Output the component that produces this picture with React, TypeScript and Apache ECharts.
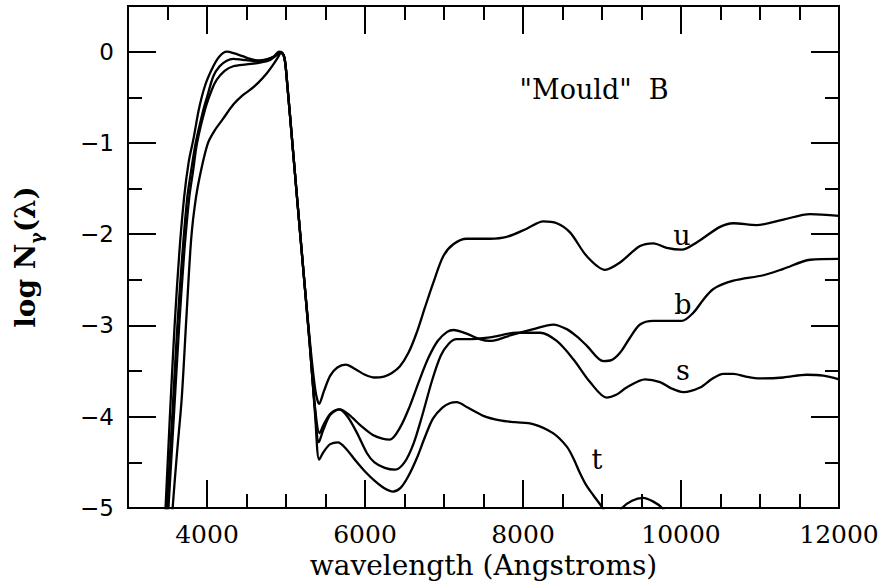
import React, { useEffect, useRef } from 'react';
import * as echarts from 'echarts';

// wavelength (Angstroms), log N_gamma(lambda)
const uCurve: number[][] = [
  [3545, -5.3], [3565, -5.0], [3620, -4.4], [3680, -3.8], [3740, -2.9], [3800, -2.05], [3860, -1.6],
  [3930, -1.28], [4013, -1.0], [4100, -0.86], [4200, -0.74], [4333, -0.58], [4450, -0.48], [4544, -0.42],
  [4650, -0.34], [4755, -0.24], [4840, -0.14], [4900, -0.06], [4940, -0.01], [4970, -0.04], [5000, -0.2],
  [5100, -1.2], [5200, -2.2], [5300, -3.15], [5370, -3.7], [5420, -3.86], [5480, -3.72], [5560, -3.55],
  [5650, -3.46], [5756, -3.43], [5880, -3.48], [6000, -3.54], [6120, -3.57], [6240, -3.56], [6340, -3.52],
  [6440, -3.45], [6550, -3.3], [6654, -3.08], [6760, -2.8], [6865, -2.53], [6992, -2.24], [7118, -2.11],
  [7287, -2.05], [7450, -2.05], [7582, -2.05], [7793, -2.03], [8047, -1.94], [8258, -1.86], [8427, -1.88],
  [8595, -1.98], [8806, -2.24], [9038, -2.39], [9228, -2.31], [9481, -2.13], [9650, -2.1], [9819, -2.15],
  [10009, -2.17], [10199, -2.09], [10494, -1.92], [10663, -1.88], [10958, -1.9], [11296, -1.84],
  [11634, -1.78], [12000, -1.8],
];

const bCurve: number[][] = [
  [3495, -5.3], [3512, -5.0], [3580, -4.0], [3648, -3.0], [3712, -2.2], [3775, -1.6], [3825, -1.3],
  [3874, -1.0], [3980, -0.62], [4060, -0.42], [4122, -0.31], [4223, -0.21], [4333, -0.16], [4500, -0.14],
  [4671, -0.12], [4800, -0.09], [4880, -0.04], [4925, -0.01], [4955, -0.02], [4980, -0.07], [5000, -0.2],
  [5100, -1.2], [5200, -2.2], [5300, -3.2], [5370, -3.92], [5425, -4.18], [5480, -4.08], [5570, -3.96],
  [5684, -3.92], [5800, -3.98], [5950, -4.1], [6100, -4.2], [6220, -4.24], [6316, -4.25], [6443, -4.12],
  [6560, -3.9], [6680, -3.62], [6800, -3.36], [6920, -3.17], [7040, -3.07], [7120, -3.05], [7287, -3.09],
  [7450, -3.15], [7582, -3.17], [7700, -3.15], [7836, -3.11], [8131, -3.04], [8384, -2.99], [8553, -3.04],
  [8680, -3.12], [8806, -3.22], [9017, -3.39], [9120, -3.38], [9228, -3.3], [9350, -3.14], [9481, -2.99],
  [9650, -2.95], [9819, -2.95], [10009, -2.95], [10157, -2.86], [10280, -2.72], [10410, -2.6],
  [10663, -2.51], [11043, -2.45], [11296, -2.38], [11634, -2.28], [12000, -2.27],
];

const sCurve: number[][] = [
  [3475, -5.3], [3492, -5.0], [3560, -4.0], [3625, -3.0], [3690, -2.2], [3750, -1.6], [3800, -1.3],
  [3857, -1.0], [3950, -0.65], [4000, -0.5], [4080, -0.27], [4160, -0.16], [4250, -0.1], [4333, -0.08],
  [4450, -0.09], [4586, -0.1], [4720, -0.09], [4840, -0.06], [4920, -0.01], [4955, -0.02], [4980, -0.07],
  [5000, -0.2], [5100, -1.2], [5200, -2.2], [5300, -3.2], [5370, -3.95], [5415, -4.28], [5470, -4.15],
  [5560, -3.98], [5672, -3.92], [5780, -4.0], [5900, -4.18], [6025, -4.4], [6120, -4.5], [6250, -4.56],
  [6380, -4.58], [6500, -4.5], [6612, -4.3], [6720, -4.0], [6850, -3.6], [6960, -3.33], [7060, -3.2],
  [7160, -3.15], [7287, -3.15], [7582, -3.13], [7920, -3.08], [8215, -3.08], [8427, -3.17], [8637, -3.37],
  [8848, -3.62], [9059, -3.79], [9180, -3.76], [9312, -3.68], [9545, -3.59], [9735, -3.62], [9880, -3.69],
  [10030, -3.73], [10241, -3.68], [10400, -3.58], [10536, -3.53], [10663, -3.53], [10820, -3.56],
  [11000, -3.58], [11296, -3.57], [11592, -3.54], [11800, -3.55], [12000, -3.59],
];

const tCurve: number[][] = [
  [3455, -5.3], [3475, -5.0], [3530, -4.0], [3590, -3.0], [3650, -2.2], [3710, -1.6], [3770, -1.2],
  [3830, -0.95], [3900, -0.62], [3980, -0.36], [4080, -0.16], [4160, -0.05], [4250, 0.0], [4350, -0.02],
  [4450, -0.05], [4550, -0.08], [4650, -0.1], [4750, -0.09], [4850, -0.05], [4910, 0.0], [4950, -0.01],
  [4980, -0.06], [5000, -0.2], [5100, -1.2], [5200, -2.2], [5300, -3.2], [5370, -4.0], [5420, -4.47],
  [5480, -4.38], [5560, -4.3], [5658, -4.28], [5760, -4.35], [5880, -4.48], [6000, -4.6], [6120, -4.7],
  [6240, -4.78], [6354, -4.82], [6450, -4.78], [6550, -4.65], [6658, -4.45], [6760, -4.22], [6860, -4.02],
  [6980, -3.9], [7080, -3.85], [7160, -3.84], [7300, -3.9], [7498, -3.99], [7709, -4.04], [7900, -4.06],
  [8127, -4.08], [8380, -4.18], [8557, -4.33], [8640, -4.46], [8722, -4.62], [8800, -4.75], [8890, -4.86],
  [9000, -4.99], [9100, -5.12], [9180, -5.1], [9253, -5.0], [9380, -4.92], [9519, -4.89], [9650, -4.93],
  [9760, -5.0], [9860, -5.12], [10000, -5.3],
];

const curveLabels = [
  { name: 'u', value: [10013, -2.01] },
  { name: 'b', value: [10025, -2.77] },
  { name: 's', value: [10025, -3.49] },
  { name: 't', value: [8937, -4.47] },
];
const panelTitle = [{ name: '"Mould"  B', value: [8900, -0.41] }];

const xLabelValues = [4000, 6000, 8000, 10000, 12000];
const xMajorTicks = [4000, 6000, 8000, 10000];
const xMinorTicks = [3500, 4500, 5000, 5500, 6500, 7000, 7500, 8500, 9000, 9500, 10500, 11000, 11500];
const yLabelValues = [-5, -4, -3, -2, -1, 0];
const yMajorTicks = [-4, -3, -2, -1, 0];
const yMinorTicks = [-4.5, -3.5, -2.5, -1.5, -0.5];

const SERIF = 'DejaVu Serif';
const line = { color: '#000', width: 2 };

function xAxisDef(position: 'top' | 'bottom', ticks: number[], len: number, labels: boolean) {
  const ax: any = {
    type: 'value',
    position,
    min: 3000,
    max: 12000,
    interval: 1000,
    axisLine: { show: true, onZero: false, lineStyle: line },
    axisTick: { show: true, inside: true, length: len, customValues: ticks, lineStyle: line },
    axisLabel: { show: false },
    splitLine: { show: false },
  };
  if (labels) {
    ax.axisLabel = {
      show: true,
      customValues: xLabelValues,
      fontFamily: SERIF,
      fontSize: 25,
      color: '#000',
      margin: 14,
      formatter: (v: number) => String(v),
    };
    ax.name = 'wavelength (Angstroms)';
    ax.nameLocation = 'middle';
    ax.nameGap = 42;
    ax.nameTextStyle = { fontFamily: SERIF, fontSize: 28, color: '#000' };
  }
  return ax;
}

function yAxisDef(position: 'left' | 'right', ticks: number[], len: number, labels: boolean) {
  const ax: any = {
    type: 'value',
    position,
    min: -5,
    max: 0.5,
    interval: 1,
    axisLine: { show: true, onZero: false, lineStyle: line },
    axisTick: { show: true, inside: true, length: len, customValues: ticks, lineStyle: line },
    axisLabel: { show: false },
    splitLine: { show: false },
  };
  if (labels) {
    ax.axisLabel = {
      show: true,
      customValues: yLabelValues,
      fontFamily: 'DejaVu Sans',
      fontSize: 23,
      color: '#000',
      margin: 14,
      formatter: (v: number) => (v === 0 ? '0' : '\u2212' + Math.abs(v)),
    };
    ax.name = '{a|log N}{g|\u03b3}{a|(\u03bb)}';
    ax.nameLocation = 'middle';
    ax.nameGap = 84;
    ax.nameTextStyle = {
      rich: {
        a: { fontFamily: SERIF, fontSize: 28, fontWeight: 'bold', color: '#000', lineHeight: 38 },
        g: { fontFamily: SERIF, fontSize: 17, fontWeight: 'bold', color: '#000', lineHeight: 20, verticalAlign: 'bottom' },
      },
    };
  }
  return ax;
}

function curveSeries(name: string, data: number[][]) {
  return {
    name,
    type: 'line',
    data,
    xAxisIndex: 0,
    yAxisIndex: 0,
    showSymbol: false,
    symbol: 'none',
    smooth: 0.3,
    clip: true,
    lineStyle: { color: '#000', width: 2.3 },
    silent: true,
  };
}

function textSeries(data: any[], fontSize: number) {
  return {
    type: 'scatter',
    data,
    xAxisIndex: 0,
    yAxisIndex: 0,
    symbolSize: 0,
    silent: true,
    itemStyle: { opacity: 1, color: '#000' },
    label: {
      show: true,
      position: 'inside',
      formatter: '{b}',
      fontFamily: SERIF,
      fontSize,
      color: '#000',
      opacity: 1,
    },
  };
}

export default function App() {
  const ref = useRef<HTMLDivElement>(null);
  useEffect(() => {
    if (!ref.current) return;
    const chart = echarts.init(ref.current, undefined, { renderer: 'svg' });
    chart.setOption({
      animation: false,
      backgroundColor: '#fff',
      grid: { left: 128, right: 55, top: 6, bottom: 80 },
      xAxis: [
        xAxisDef('bottom', xMajorTicks, 28, true),
        xAxisDef('bottom', xMinorTicks, 14, false),
        xAxisDef('top', xMajorTicks, 28, false),
        xAxisDef('top', xMinorTicks, 14, false),
      ],
      yAxis: [
        yAxisDef('left', yMajorTicks, 28, true),
        yAxisDef('left', yMinorTicks, 14, false),
        yAxisDef('right', yMajorTicks, 28, false),
        yAxisDef('right', yMinorTicks, 14, false),
      ],
      series: [
        curveSeries('u', uCurve),
        curveSeries('b', bCurve),
        curveSeries('s', sCurve),
        curveSeries('t', tCurve),
        textSeries(curveLabels, 27),
        textSeries(panelTitle, 27),
      ],
    });
    return () => chart.dispose();
  }, []);
  return (
    <div
      ref={ref}
      style={{ position: 'absolute', left: 0, top: 0, width: 894, height: 588, background: '#fff' }}
    />
  );
}
